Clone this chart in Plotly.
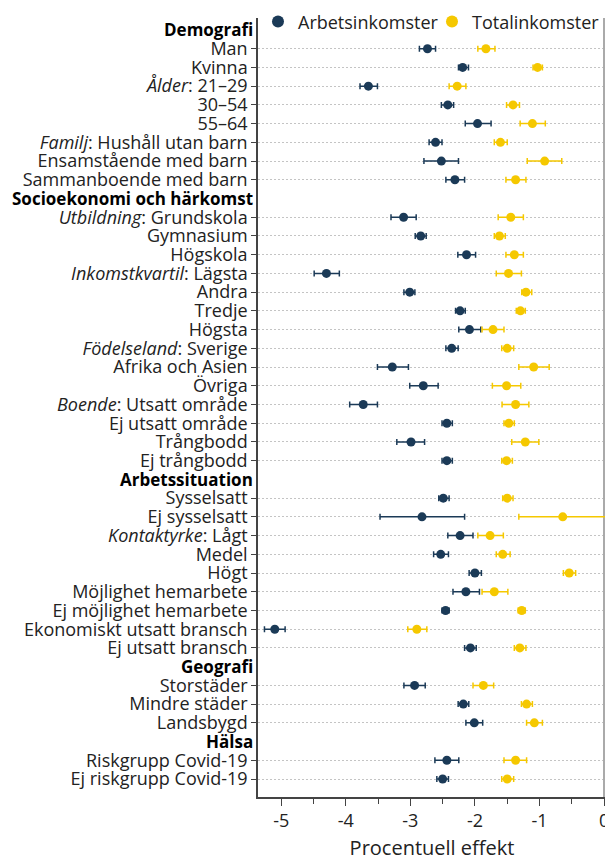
import plotly.graph_objects as go

# Row order (top to bottom); headers are section titles without data
rows = [
    "Demografi", "Man", "Kvinna", "Ålder: 21–29", "30–54", "55–64",
    "Familj: Hushåll utan barn", "Ensamstående med barn", "Sammanboende med barn",
    "Socioekonomi och härkomst", "Utbildning: Grundskola", "Gymnasium", "Högskola",
    "Inkomstkvartil: Lägsta", "Andra", "Tredje", "Högsta",
    "Födelseland: Sverige", "Afrika och Asien", "Övriga",
    "Boende: Utsatt område", "Ej utsatt område", "Trångbodd", "Ej trångbodd",
    "Arbetssituation", "Sysselsatt", "Ej sysselsatt", "Kontaktyrke: Lågt", "Medel", "Högt",
    "Möjlighet hemarbete", "Ej möjlighet hemarbete", "Ekonomiskt utsatt bransch", "Ej utsatt bransch",
    "Geografi", "Storstäder", "Mindre städer", "Landsbygd",
    "Hälsa", "Riskgrupp Covid-19", "Ej riskgrupp Covid-19",
]
headers = ["Demografi", "Socioekonomi och härkomst", "Arbetssituation", "Geografi", "Hälsa"]
italic_prefix = ["Ålder", "Familj", "Utbildning", "Inkomstkvartil", "Födelseland", "Boende", "Kontaktyrke"]

data_rows = [r for r in rows if r not in headers]

arb_est = [-2.735, -2.19, -3.65, -2.42, -1.96, -2.61, -2.52, -2.31,
           -3.105, -2.84, -2.13, -4.30, -3.01, -2.23, -2.085, -2.36, -3.28, -2.80,
           -3.73, -2.435, -2.99, -2.435,
           -2.49, -2.82, -2.23, -2.53, -2.00, -2.14, -2.455, -5.10, -2.07,
           -2.935, -2.18, -2.01, -2.435, -2.50]
arb_lo = [-2.86, -2.255, -3.78, -2.52, -2.15, -2.71, -2.79, -2.45,
          -3.30, -2.925, -2.265, -4.49, -3.10, -2.30, -2.25, -2.45, -3.51, -3.01,
          -3.94, -2.51, -3.21, -2.51,
          -2.56, -3.47, -2.42, -2.64, -2.09, -2.34, -2.51, -5.26, -2.16,
          -3.10, -2.26, -2.14, -2.62, -2.59]
arb_hi = [-2.61, -2.10, -3.51, -2.33, -1.75, -2.51, -2.255, -2.16,
          -2.91, -2.755, -1.99, -4.10, -2.93, -2.15, -1.91, -2.26, -3.03, -2.57,
          -3.51, -2.35, -2.78, -2.35,
          -2.40, -2.16, -2.03, -2.41, -1.90, -1.93, -2.40, -4.94, -1.98,
          -2.77, -2.095, -1.88, -2.25, -2.41]

tot_est = [-1.83, -1.03, -2.275, -1.41, -1.11, -1.605, -0.92, -1.37,
           -1.445, -1.62, -1.39, -1.48, -1.21, -1.295, -1.72, -1.50, -1.09, -1.51,
           -1.37, -1.475, -1.22, -1.51,
           -1.50, -0.64, -1.765, -1.57, -0.54, -1.70, -1.275, -2.90, -1.305,
           -1.87, -1.20, -1.08, -1.37, -1.50]
tot_lo = [-1.955, -1.10, -2.40, -1.51, -1.30, -1.70, -1.19, -1.52,
          -1.64, -1.70, -1.52, -1.67, -1.275, -1.36, -1.89, -1.585, -1.32, -1.73,
          -1.58, -1.55, -1.43, -1.585,
          -1.57, -1.32, -1.955, -1.67, -0.63, -1.89, -1.33, -3.04, -1.39,
          -2.03, -1.28, -1.20, -1.55, -1.585]
tot_hi = [-1.69, -0.955, -2.14, -1.31, -0.91, -1.50, -0.655, -1.21,
          -1.25, -1.53, -1.25, -1.28, -1.12, -1.22, -1.55, -1.40, -0.85, -1.29,
          -1.165, -1.39, -1.01, -1.42,
          -1.41, 0.03, -1.56, -1.455, -0.44, -1.49, -1.22, -2.745, -1.21,
          -1.71, -1.11, -0.955, -1.20, -1.40]

x_ticks = [-5, -4, -3, -2, -1, 0]

DARK = "#1b3a57"
YELLOW = "#f5c800"
FONT = "Open Sans"


def fmt(label):
    for p in italic_prefix:
        if label.startswith(p + ":"):
            return "<i>" + p + "</i>" + label[len(p):]
    return label


def trace(name, est, lo, hi, color, legend):
    return go.Scatter(
        x=est, y=data_rows, name=name, mode="markers", legend=legend,
        marker=dict(color=color, size=9),
        error_x=dict(type="data", symmetric=False,
                     array=[h - e for h, e in zip(hi, est)],
                     arrayminus=[e - l for e, l in zip(est, lo)],
                     color=color, thickness=1.5, width=3),
    )


fig = go.Figure()
fig.add_trace(trace("Arbetsinkomster", arb_est, arb_lo, arb_hi, DARK, "legend"))
fig.add_trace(trace("Totalinkomster", tot_est, tot_lo, tot_hi, YELLOW, "legend2"))

for h in headers:
    fig.add_annotation(x=0, xref="paper", y=h, yref="y", text="<b>" + h + "</b>",
                       showarrow=False, xanchor="right", xshift=-3,
                       font=dict(family=FONT, size=17, color="#000"))

legend_common = dict(orientation="h", y=0.995, yanchor="middle",
                     bgcolor="rgba(0,0,0,0)", font=dict(size=18, color="#222"),
                     itemsizing="constant", itemwidth=30, xanchor="left")

fig.update_layout(
    width=605, height=853,
    margin=dict(l=250, r=7, t=10, b=64, autoexpand=False),
    plot_bgcolor="white", paper_bgcolor="white",
    font=dict(family=FONT, size=18, color="#222"),
    showlegend=True,
    legend=dict(x=0.0, **legend_common),
    legend2=dict(x=0.5, **legend_common),
    xaxis=dict(range=[-5.36, 0.03], tickvals=x_ticks, ticktext=[str(v) for v in x_ticks],
               ticklabeloverflow="allow",
               showgrid=False, zeroline=True, zerolinecolor="#aaaaaa", zerolinewidth=2,
               showline=True, linecolor="#444", linewidth=1.5,
               ticks="outside", ticklen=7, tickwidth=1.2, tickcolor="#444",
               minor=dict(dtick=0.5, tick0=0, ticks="outside", ticklen=5, tickcolor="#444", tickwidth=1.2),
               title=dict(text="Procentuell effekt", font=dict(size=20), standoff=10),
               tickfont=dict(size=18)),
    yaxis=dict(type="category", categoryorder="array", categoryarray=rows,
               range=[40.96, -0.64],
               tickvals=data_rows, ticktext=[fmt(r) for r in data_rows],
               showgrid=True, gridcolor="#c4c4c4", griddash="1.5px,2.5px", gridwidth=1,
               showline=True, linecolor="#444", linewidth=1.5,
               ticks="outside", ticklen=5, tickwidth=1.2, tickcolor="#444",
               tickfont=dict(size=18, color="#222")),
)

fig.write_html("out.html")
